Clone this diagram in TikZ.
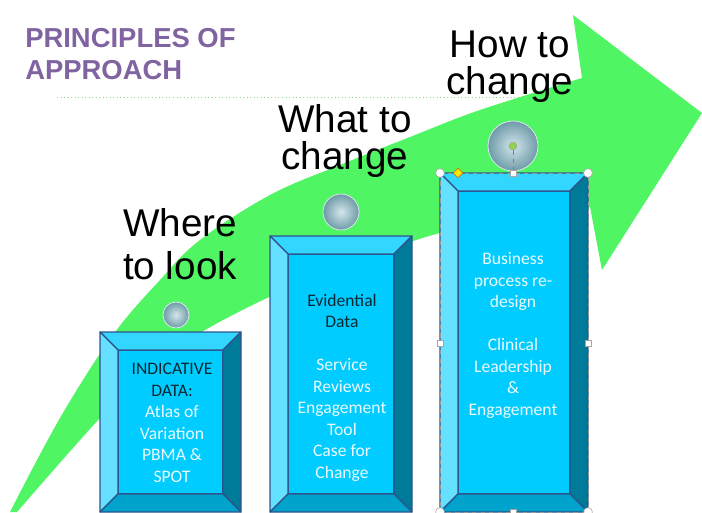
\documentclass[tikz,border=0pt]{standalone}
\usepackage{fontspec}
\setmainfont{Liberation Sans}
\newfontfamily\calibri{Carlito}
\usetikzlibrary{fit,shapes.geometric}

\definecolor{arrowgreen}{RGB}{80,245,100}
\definecolor{titlepurple}{RGB}{128,100,162}
\definecolor{edgeblue}{RGB}{46,84,140}
\definecolor{frontc}{RGB}{0,204,255}
\definecolor{topc}{RGB}{51,214,255}
\definecolor{leftc}{RGB}{102,224,255}
\definecolor{rightc}{RGB}{0,122,153}
\definecolor{botc}{RGB}{0,163,204}
\definecolor{darktxt}{RGB}{10,40,50}
\definecolor{lighttxt}{RGB}{235,250,255}
\definecolor{beadc}{RGB}{160,200,210}
\definecolor{beadedge}{RGB}{110,155,168}
\definecolor{rotgreen}{RGB}{146,208,80}

\tikzset{%
  % Specifications for style of nodes:
          title/.style = {anchor=north west, inner sep=0pt, align=left,
                          text=titlepurple,
                          font=\fontsize{19.5}{22.8}\selectfont\bfseries},
          stage/.style = {inner sep=0pt, align=center,
                          font=\fontsize{27.5}{27}\selectfont},
           face/.style = {rectangle, draw=edgeblue, fill=frontc,
                          line width=0.8pt, inner sep=0pt, outer sep=0pt},
     bevelline/.style = {draw=edgeblue, line width=0.8pt, line join=round},
        boxtext/.style = {inner sep=0pt, align=center, text=lighttxt,
                          font=\calibri\fontsize{12.5}{15.3}\selectfont},
           bead/.style = {circle, inner sep=0pt, shading=radial,
                          inner color=white!55!beadc, outer color=beadedge,
                          draw=white!70!beadc, line width=0.5pt},
       dotrule/.style = {dotted, line width=0.5pt, green!45!gray!60},
         handle/.style = {circle, draw=gray!70, fill=white, inner sep=0pt,
                          minimum size=0.22cm},
       sqhandle/.style = {rectangle, draw=gray!70, fill=white, inner sep=0pt,
                          minimum size=0.16cm},
}

% bevel faces round a face node: #1 node, #2 bevel width
\newcommand\bevel[2]{%
  \path (#1.north west) ++(-#2,-#2) coordinate (#1-onw)
        (#1.north east) ++(#2,-#2)  coordinate (#1-one)
        (#1.south east) ++(#2,#2)   coordinate (#1-ose)
        (#1.south west) ++(-#2,#2)  coordinate (#1-osw);
  \filldraw[bevelline, fill=topc]   (#1-onw) -- (#1-one) -- (#1.north east) -- (#1.north west) -- cycle;
  \filldraw[bevelline, fill=leftc]  (#1-onw) -- (#1.north west) -- (#1.south west) -- (#1-osw) -- cycle;
  \filldraw[bevelline, fill=rightc] (#1-one) -- (#1-ose) -- (#1.south east) -- (#1.north east) -- cycle;
  \filldraw[bevelline, fill=botc]   (#1-osw) -- (#1.south west) -- (#1.south east) -- (#1-ose) -- cycle;
}

\begin{document}
\begin{tikzpicture}[x=0.025cm, y=-0.025cm]
  \useasboundingbox (0,0) rectangle (702,512);

  % heading and rule
  \node[title] (principles) at (25,28) {PRINCIPLES OF\\APPROACH};
  \draw[dotrule] (57,97) -- (560,97);

  % the big rising arrow
  \fill[arrowgreen] plot[smooth, tension=0.6] coordinates {(10,512) (60,418) (113,335)
      (160,280) (200,240) (270,195) (340,165) (410,137) (480,110) (582,78)}
    -- (573,15) -- (702,113) -- (602,270) -- (590,207)
    -- plot[smooth, tension=0.6] coordinates {(590,207) (520,218) (440,233) (360,260)
      (280,292) (200,333) (150,370) (100,418) (17,512)} -- cycle;

  % Specification of nodes (position, etc.)
  \node (where) [stage, font=\fontsize{27.5}{30.6}\selectfont] at (180,244.5) {Where\\to look};
  \node (what)  [stage] at (345,141) {What to\\change};
  \node (how)   [stage, font=\fontsize{27.5}{26.3}\selectfont] at (510,66.5) {How to\\change};

  \node (face1) [face, fit={(118,350) (223,494)}] {};
  \node (face2) [face, fit={(288,254) (394,494)}] {};
  \node (face3) [face, fit={(458,191) (570,494)}] {};
  \bevel{face1}{18}
  \bevel{face2}{18}
  \bevel{face3}{18}

  \node (indicative) [boxtext] at (172,423)
    {\textcolor{darktxt}{INDICATIVE}\\\textcolor{darktxt}{DATA:}\\Atlas of\\Variation\\PBMA \&\\SPOT};
  \node (evidential) [boxtext] at (342,387.5)
    {\textcolor{darktxt}{Evidential}\\\textcolor{darktxt}{Data}\\[15.3pt]Service\\Reviews\\Engagement\\Tool\\Case for\\Change};
  \node (business)   [boxtext] at (513,335.5)
    {Business\\process re-\\design\\[15.3pt]Clinical\\Leadership\\\&\\Engagement};

  \node (bead1) [bead, minimum size=0.65cm] at (176,315) {};
  \node (bead2) [bead, minimum size=0.9cm]  at (341,212) {};
  \node (bead3) [bead, minimum size=1.25cm] at (513,146) {};

  % selection handles on the third box
  \draw[gray!80, line width=0.4pt, dashed] (face3-onw) rectangle (face3-ose);
  \node (rot)   [circle, fill=rotgreen, draw=gray!70, inner sep=0pt,
                 minimum size=0.2cm] at (513,146) {};
  \node (topmid) [sqhandle] at (513,173) {};
  \draw[gray, dashed, line width=0.4pt] (rot) -- (topmid);
  \node (adj)   [diamond, fill=yellow!90!orange, draw=orange!80!black, inner sep=0pt,
                 minimum size=0.24cm] at (458,173) {};
  \node (hnw) [handle] at (face3-onw) {};
  \node (hne) [handle] at (face3-one) {};
  \node (hsw) [handle] at (face3-osw) {};
  \node (hse) [handle] at (face3-ose) {};
  \node (hw)  [sqhandle] at (440,343) {};
  \node (he)  [sqhandle] at (588,343) {};
  \node (hs)  [sqhandle] at (513,512) {};
\end{tikzpicture}
\end{document}
